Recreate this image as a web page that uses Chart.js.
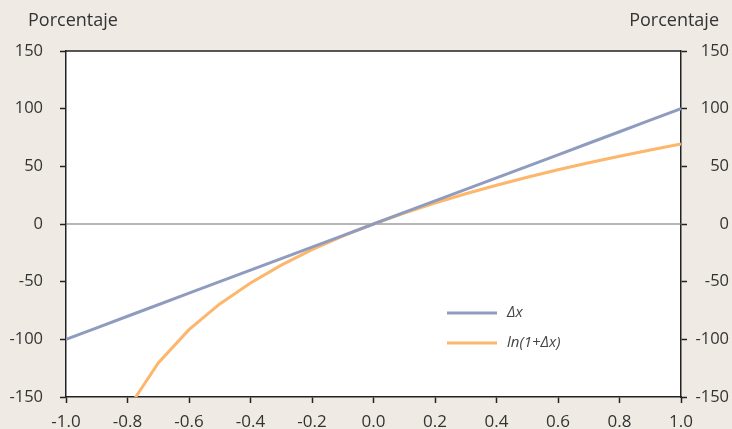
<!DOCTYPE html>
<html>
<head>
<meta charset="utf-8">
<script src="https://cdn.jsdelivr.net/npm/chart.js@4.4.0/dist/chart.umd.min.js"></script>
<style>
  html, body { margin: 0; padding: 0; background: #efebe4; }
  #wrap { width: 732px; height: 429px; }
</style>
</head>
<body>
<div id="wrap"><canvas id="logChart" width="732" height="429"></canvas></div>
<script>
const xValues = [-1.0, -0.9, -0.8, -0.7, -0.6, -0.5, -0.4, -0.3, -0.2, -0.1, 0.0,
                 0.1, 0.2, 0.3, 0.4, 0.5, 0.6, 0.7, 0.8, 0.9, 1.0];
const deltaX = [-100, -90, -80, -70, -60, -50, -40, -30, -20, -10, 0,
                10, 20, 30, 40, 50, 60, 70, 80, 90, 100];
const lnDelta = [null, -230.3, -160.9, -120.4, -91.6, -69.3, -51.1, -35.7, -22.3, -10.5, 0,
                 9.5, 18.2, 26.2, 33.6, 40.5, 47.0, 53.1, 58.8, 64.2, 69.3];
const yTicks = [-150, -100, -50, 0, 50, 100, 150];
const seriesLabels = ['\u0394x', 'ln(1+\u0394x)'];
const axisLabel = 'Porcentaje';

const BLUE = '#8f9cc0';
const ORANGE = '#fcb76c';
const FONT = '"Open Sans", "Noto Sans", sans-serif';
const TEXT = '#333';

function toPoints(ys) {
    return xValues.map(function (x, i) { return { x: x, y: ys[i] }; });
}

// white plot area, titles on top, top border, zero line and legend inside the plot
const decorations = {
    id: 'decorations',
    beforeDraw(chart) {
        const ctx = chart.ctx;
        const area = chart.chartArea;
        ctx.save();
        ctx.fillStyle = '#ffffff';
        ctx.fillRect(area.left, area.top, area.right - area.left, area.bottom - area.top);
        ctx.restore();
    },
    beforeDatasetsDraw(chart) {
        const ctx = chart.ctx;
        const area = chart.chartArea;
        const y0 = chart.scales.y.getPixelForValue(0);
        ctx.save();
        ctx.strokeStyle = '#6e6e6e';
        ctx.lineWidth = 1.2;
        ctx.beginPath();
        ctx.moveTo(area.left, y0);
        ctx.lineTo(area.right, y0);
        ctx.stroke();
        ctx.restore();
    },
    afterDraw(chart) {
        const ctx = chart.ctx;
        const area = chart.chartArea;
        ctx.save();
        ctx.strokeStyle = '#222';
        ctx.lineWidth = 1.5;
        ctx.beginPath();
        ctx.moveTo(area.left, area.top);
        ctx.lineTo(area.right, area.top);
        ctx.stroke();

        ctx.fillStyle = TEXT;
        ctx.font = '18px ' + FONT;
        ctx.textBaseline = 'middle';
        ctx.textAlign = 'left';
        ctx.fillText(axisLabel, 28, 21);
        ctx.textAlign = 'right';
        ctx.fillText(axisLabel, 719, 21);

        const colors = [BLUE, ORANGE];
        const rows = [313, 343];
        ctx.font = 'italic 15px ' + FONT;
        ctx.textAlign = 'left';
        ctx.fillStyle = '#444';
        rows.forEach(function (ry, i) {
            ctx.strokeStyle = colors[i];
            ctx.lineWidth = 3;
            ctx.beginPath();
            ctx.moveTo(447, ry);
            ctx.lineTo(497, ry);
            ctx.stroke();
            ctx.fillText(seriesLabels[i], 507, ry);
        });
        ctx.restore();
    }
};

const yAxisCommon = {
    type: 'linear',
    min: -150,
    max: 150,
    afterBuildTicks: function (scale) {
        scale.ticks = yTicks.map(function (v) { return { value: v }; });
    },
    grid: {
        drawOnChartArea: false,
        drawTicks: true,
        tickLength: 6,
        tickColor: '#222',
        tickWidth: 1.5
    },
    border: { display: true, color: '#222', width: 1.5 },
    ticks: {
        color: TEXT,
        font: { family: FONT, size: 16.5 }
    }
};

const ctx = document.getElementById('logChart').getContext('2d');
const logChart = new Chart(ctx, {
    type: 'line',
    data: {
        datasets: [
            {
                label: seriesLabels[1],
                data: toPoints(lnDelta),
                borderColor: ORANGE,
                borderWidth: 3,
                pointRadius: 0,
                tension: 0,
                order: 2
            },
            {
                label: seriesLabels[0],
                data: toPoints(deltaX),
                borderColor: BLUE,
                borderWidth: 3,
                pointRadius: 0,
                tension: 0,
                order: 1
            }
        ]
    },
    options: {
        responsive: false,
        animation: false,
        layout: { padding: { top: 51, left: 0, right: 3, bottom: 0 } },
        scales: {
            x: {
                type: 'linear',
                min: -1,
                max: 1,
                afterFit: function (scale) { scale.height = 32; },
                grid: {
                    drawOnChartArea: false,
                    drawTicks: true,
                    tickLength: 6,
                    tickColor: '#222',
                    tickWidth: 1.5
                },
                border: { display: true, color: '#222', width: 1.5 },
                ticks: {
                    stepSize: 0.2,
                    autoSkip: false,
                    maxRotation: 0,
                    color: TEXT,
                    font: { family: FONT, size: 17 },
                    padding: 9,
                    callback: function (value) { return value.toFixed(1); }
                }
            },
            y: Object.assign({}, yAxisCommon, {
                position: 'left',
                ticks: Object.assign({}, yAxisCommon.ticks, { padding: 17 }),
                afterFit: function (scale) { scale.width = 66; }
            }),
            y1: Object.assign({}, yAxisCommon, {
                position: 'right',
                ticks: Object.assign({}, yAxisCommon.ticks, { crossAlign: 'far' }),
                afterFit: function (scale) { scale.width = 48; }
            })
        },
        plugins: {
            legend: { display: false },
            tooltip: { enabled: false }
        }
    },
    plugins: [decorations]
});
</script>
</body>
</html>
